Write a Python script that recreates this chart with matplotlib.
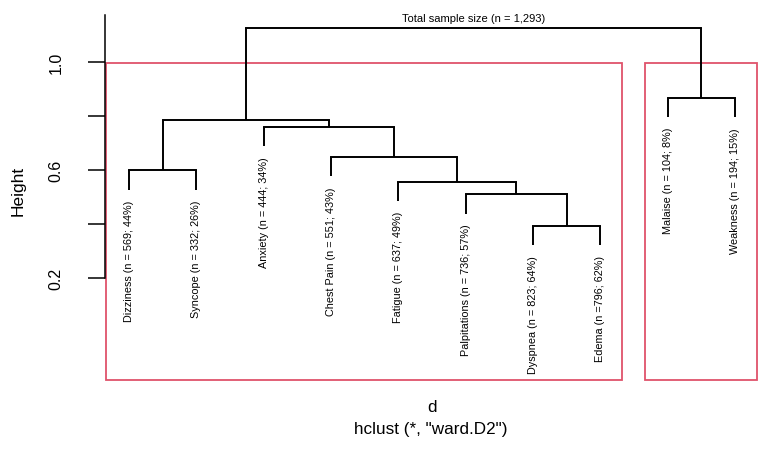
import matplotlib.pyplot as plt
import numpy as np

plt.rcParams['font.family'] = ['Liberation Sans', 'DejaVu Sans']

# leaves in display order
labels = ["Dizziness (n = 569; 44%)", "Syncope (n = 332; 26%)",
          "Anxiety (n = 444; 34%)", "Chest Pain (n = 551; 43%)",
          "Fatigue (n = 637; 49%)", "Palpitations (n = 736; 57%)",
          "Dyspnea (n = 823; 64%)", "Edema (n =796; 62%)",
          "Malaise (n = 104; 8%)", "Weakness (n = 194; 15%)"]

# R-style merge table: negative = leaf (1-based), positive = earlier merge
merge_a = [-7, -6, -5, -1, -4, -3, 4, -9, 7]
merge_b = [-8, 1, 2, -2, 3, 5, 6, -10, 8]
heights = [0.394, 0.511, 0.557, 0.600, 0.649, 0.760, 0.785, 0.868, 1.124]

title_txt = "Total sample size (n = 1,293)"
clusters = [(1, 8), (9, 10)]   # leaf ranges for the highlighted groups

red = "#DF536B"
hang = 0.1 * (max(heights) - min(heights))

fig = plt.figure(figsize=(7.73, 4.52), dpi=100)
ax = fig.add_axes([0.1358, 0.1571, 0.8462, 0.8075])
ax.set_xlim(0.64, 10.36)
ax.set_ylim(-0.178, 1.174)

node_x = {}
for i, (a, b) in enumerate(zip(merge_a, merge_b)):
    h = heights[i]
    xs = []
    for c in (a, b):
        if c < 0:
            x = -c
            y0 = h - hang
            ax.annotate(labels[x - 1], (x, y0), xytext=(0, -7),
                        textcoords='offset points', rotation=90,
                        ha='center', va='top', fontsize=7.8)
        else:
            x = node_x[c]
            y0 = heights[c - 1]
        xs.append(x)
        ax.plot([x, x], [y0, h], color='black', lw=1.4, solid_capstyle='butt')
    ax.plot(xs, [h, h], color='black', lw=1.4, solid_capstyle='projecting')
    node_x[i + 1] = np.mean(xs)

root = len(heights)
ax.text(node_x[root], heights[-1] + 0.02, title_txt, ha='center', va='bottom',
        fontsize=8.0)

# cluster rectangles like rect.hclust(k = 2)
top = np.mean(heights[-2:])
for lo, hi in clusters:
    ax.add_patch(plt.Rectangle((lo - 0.34, -0.178), hi - lo + 0.67, top + 0.178,
                               fill=False, edgecolor=red, lw=1.3, clip_on=False))

for s in ['top', 'right', 'bottom']:
    ax.spines[s].set_visible(False)
ax.spines['left'].set_bounds(0.2, 1.174)
ax.spines['left'].set_linewidth(1.1)
ax.set_xticks([])
ax.set_yticks([0.2, 0.4, 0.6, 0.8, 1.0])
ax.set_yticklabels(["0.2", "", "0.6", "", "1.0"], rotation=90, va='center')
ax.tick_params(axis='y', length=12, width=1.1, labelsize=11.5, pad=18)

fig.text(18 / 773, 1 - 191 / 452, "Height", rotation=90, ha='center',
         va='center', fontsize=12.5)
fig.text(432 / 773, 1 - 408 / 452, "d", ha='center', va='center', fontsize=12.3)
fig.text(431 / 773, 1 - 430 / 452, 'hclust (*, "ward.D2")', ha='center',
         va='center', fontsize=12.3)

fig.savefig("out.png", dpi=100)
